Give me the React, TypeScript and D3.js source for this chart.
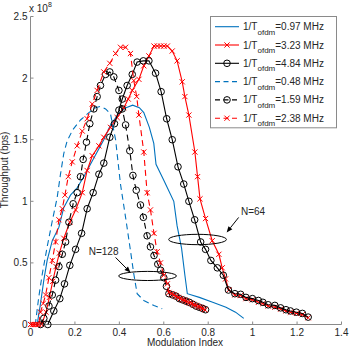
import React from 'react';
import { scaleLinear, line } from 'd3';

const xTicks = [0, 0.2, 0.4, 0.6, 0.8, 1, 1.2, 1.4];
const yTicks = [0, 0.5, 1, 1.5, 2, 2.5];

// throughput in units of 1e8 bps
// 1/Tofdm = 0.97 MHz
const mod097 = [0.02, 0.03, 0.045, 0.06, 0.075, 0.098, 0.128, 0.15, 0.18, 0.21, 0.24, 0.27, 0.3, 0.33, 0.36, 0.4, 0.43, 0.46, 0.49, 0.51, 0.535, 0.555, 0.565, 0.6, 0.645, 0.66, 0.68, 0.695, 0.706, 0.76, 0.82, 0.88, 0.923, 0.96];
const thr097 = [0, 0, 0.17, 0.36, 0.52, 0.68, 0.79, 0.95, 1.05, 1.11, 1.2, 1.3, 1.4, 1.5, 1.62, 1.72, 1.76, 1.78, 1.76, 1.72, 1.6, 1.47, 1.3, 1.17, 1.0, 0.8, 0.62, 0.4, 0.25, 0.22, 0.18, 0.14, 0.1, 0.05];

// 1/Tofdm = 3.23 MHz
const mod323 = [0.05, 0.07, 0.085, 0.1, 0.115, 0.13, 0.15, 0.177, 0.203, 0.233, 0.255, 0.278, 0.308, 0.33, 0.36, 0.39, 0.42, 0.44, 0.458, 0.488, 0.51, 0.533, 0.556, 0.571, 0.586, 0.601, 0.616, 0.638, 0.66, 0.683, 0.695, 0.713, 0.74, 0.752, 0.763, 0.788, 0.818, 0.848, 0.863, 0.878, 0.893, 0.92, 0.946, 0.97, 0.999, 1.026, 1.046, 1.07, 1.1, 1.126, 1.15, 1.17, 1.197, 1.224, 1.25];
const thr323 = [0, 0.1, 0.22, 0.35, 0.47, 0.58, 0.7, 0.83, 0.93, 1.07, 1.25, 1.37, 1.45, 1.52, 1.6, 1.68, 1.76, 1.83, 1.9, 1.99, 2.1, 2.18, 2.26, 2.26, 2.26, 2.26, 2.26, 2.22, 2.14, 1.97, 1.85, 1.7, 1.4, 1.2, 1.02, 0.86, 0.68, 0.57, 0.46, 0.37, 0.28, 0.24, 0.235, 0.21, 0.2, 0.18, 0.17, 0.15, 0.14, 0.125, 0.11, 0.1, 0.09, 0.08, 0.055];

// 1/Tofdm = 4.84 MHz
const mod484 = [0.078, 0.105, 0.132, 0.153, 0.177, 0.203, 0.23, 0.255, 0.282, 0.308, 0.33, 0.357, 0.378, 0.398, 0.413, 0.435, 0.458, 0.48, 0.508, 0.533, 0.563, 0.588, 0.613, 0.638, 0.664, 0.69, 0.713, 0.739, 0.766, 0.788, 0.812, 0.841, 0.868, 0.891, 0.92, 0.946, 0.97, 0.999, 1.026, 1.046, 1.07, 1.1, 1.126, 1.15, 1.17, 1.197, 1.224, 1.25];
const thr484 = [0, 0.11, 0.21, 0.33, 0.48, 0.61, 0.74, 0.94, 1.07, 1.22, 1.31, 1.52, 1.63, 1.74, 1.83, 1.94, 2.03, 2.13, 2.14, 2.14, 2.04, 1.89, 1.67, 1.5, 1.28, 1.14, 1.0, 0.85, 0.67, 0.61, 0.52, 0.46, 0.4, 0.28, 0.25, 0.245, 0.22, 0.21, 0.195, 0.18, 0.16, 0.155, 0.135, 0.12, 0.11, 0.1, 0.09, 0.06];

// 1/Tofdm = 0.48 MHz
const mod048 = [0.015, 0.023, 0.037, 0.053, 0.075, 0.098, 0.12, 0.135, 0.15, 0.165, 0.19, 0.225, 0.263, 0.293, 0.315, 0.338, 0.36, 0.383, 0.405, 0.428, 0.45, 0.465, 0.48, 0.51, 0.556, 0.593];
const thr048 = [0, 0.02, 0.22, 0.41, 0.63, 0.84, 1.03, 1.22, 1.39, 1.49, 1.58, 1.66, 1.72, 1.76, 1.77, 1.75, 1.71, 1.5, 1.14, 0.87, 0.6, 0.41, 0.25, 0.195, 0.154, 0.127];

// 1/Tofdm = 1.59 MHz
const mod159 = [0.045, 0.06, 0.083, 0.098, 0.113, 0.128, 0.143, 0.158, 0.173, 0.192, 0.21, 0.225, 0.237, 0.252, 0.267, 0.285, 0.3, 0.315, 0.338, 0.357, 0.375, 0.398, 0.413, 0.428, 0.447, 0.461, 0.476, 0.495, 0.508, 0.525, 0.54, 0.556, 0.573, 0.586, 0.6, 0.612, 0.623, 0.64, 0.655, 0.67, 0.685, 0.7, 0.715, 0.73, 0.745, 0.76, 0.775, 0.788];
const thr159 = [0, 0.05, 0.15, 0.24, 0.36, 0.47, 0.57, 0.67, 0.83, 0.98, 1.07, 1.2, 1.34, 1.48, 1.63, 1.75, 1.85, 1.94, 2.03, 2.05, 2.01, 1.9, 1.75, 1.62, 1.41, 1.21, 1.09, 0.97, 0.87, 0.72, 0.63, 0.56, 0.49, 0.44, 0.38, 0.31, 0.25, 0.24, 0.23, 0.21, 0.2, 0.19, 0.18, 0.165, 0.15, 0.14, 0.13, 0.12];

// 1/Tofdm = 2.38 MHz
const mod238 = [0, 0.008, 0.015, 0.022, 0.03, 0.037, 0.045, 0.057, 0.068, 0.083, 0.098, 0.113, 0.128, 0.143, 0.155, 0.17, 0.188, 0.21, 0.233, 0.255, 0.278, 0.3, 0.33, 0.357, 0.383, 0.405, 0.428, 0.45, 0.465, 0.478, 0.488, 0.51, 0.525, 0.54, 0.556, 0.57, 0.585, 0.6, 0.616, 0.623, 0.635, 0.645, 0.655, 0.665, 0.675, 0.685, 0.695, 0.705, 0.715, 0.725, 0.735, 0.745, 0.755, 0.765, 0.775, 0.785];
const thr238 = [0, 0, 0, 0, 0, 0, 0.1, 0.17, 0.24, 0.38, 0.52, 0.67, 0.85, 0.94, 1.05, 1.2, 1.32, 1.45, 1.57, 1.67, 1.79, 1.9, 2.05, 2.12, 2.2, 2.25, 2.25, 2.2, 1.98, 1.85, 1.7, 1.4, 1.07, 0.93, 0.74, 0.59, 0.5, 0.4, 0.33, 0.26, 0.25, 0.24, 0.23, 0.22, 0.21, 0.2, 0.195, 0.185, 0.175, 0.17, 0.16, 0.155, 0.145, 0.14, 0.13, 0.12];

const legendValues = ['0.97', '3.23', '4.84', '0.48', '1.59', '2.38'];

const BLUE = '#0072bd';
const series = [
  { xs: mod097, ys: thr097, color: BLUE, dash: null, marker: null },
  { xs: mod323, ys: thr323, color: '#ff0000', dash: null, marker: 'x' },
  { xs: mod484, ys: thr484, color: '#000000', dash: null, marker: 'o' },
  { xs: mod048, ys: thr048, color: BLUE, dash: '6,4', marker: null },
  { xs: mod159, ys: thr159, color: '#000000', dash: '6,4', marker: 'o' },
  { xs: mod238, ys: thr238, color: '#ff0000', dash: '6,4', marker: 'x' },
];

// annotations in data units
const notes = [
  { label: 'N=128', tx: 0.329, ty: 0.568, from: [0.383, 0.544], to: [0.45, 0.422], cx: 0.527, cy: 0.394, rx: 0.13, ry: 0.037 },
  { label: 'N=64', tx: 1.002, ty: 0.885, from: [0.937, 0.869], to: [0.883, 0.747], cx: 0.752, cy: 0.69, rx: 0.13, ry: 0.042 },
];

const FONT = '"Liberation Sans", Arial, sans-serif';
const AXIS = '#8a8a8a';

function Marker({ type, x, y, color }: any) {
  if (type === 'o') {
    return <circle cx={x} cy={y} r={3.3} fill="none" stroke={color} strokeWidth={1} />;
  }
  const s = 2.6;
  return (
    <path d={`M${x - s},${y - s}L${x + s},${y + s}M${x - s},${y + s}L${x + s},${y - s}`} stroke={color} strokeWidth={1} />
  );
}

function Arrow({ x1, y1, x2, y2 }: any) {
  const a = Math.atan2(y2 - y1, x2 - x1);
  const L = 6, W = 2.5;
  const bx = x2 - L * Math.cos(a), by = y2 - L * Math.sin(a);
  const px = -Math.sin(a) * W, py = Math.cos(a) * W;
  return (
    <g>
      <line x1={x1} y1={y1} x2={bx} y2={by} stroke="#000" strokeWidth={1} />
      <path d={`M${x2},${y2}L${bx + px},${by + py}L${bx - px},${by - py}Z`} fill="#000" />
    </g>
  );
}

export default function App() {
  const width = 349, height = 348;
  const x = scaleLinear().domain([0, 1.4]).range([30.5, 341.5]);
  const y = scaleLinear().domain([0, 2.5]).range([324.5, 16.5]);

  const path = (xs: number[], ys: number[]) =>
    line<number>().x((d, i) => x(xs[i])).y((d, i) => y(ys[i]))(xs) || '';

  const legX = 210.5, legY = 16.5, legW = 126, rowH = 18.3;

  return (
    <svg width={width} height={height} style={{ position: 'absolute', left: 0, top: 0, background: '#fff' }}
      fontFamily={FONT}>
      {/* axes */}
      <line x1={x(0)} x2={x(0)} y1={y(0)} y2={y(2.5)} stroke={AXIS} />
      <line x1={x(0)} x2={x(1.4)} y1={y(0)} y2={y(0)} stroke={AXIS} />
      {xTicks.map(t => (
        <g key={'x' + t}>
          <line x1={x(t)} x2={x(t)} y1={y(0)} y2={y(0) - 3} stroke={AXIS} />
          <text x={x(t)} y={y(0) + 11.5} fontSize={10} textAnchor="middle" fill="#262626">{t}</text>
        </g>
      ))}
      {yTicks.map(t => (
        <g key={'y' + t}>
          <line x1={x(0)} x2={x(0) + 3} y1={y(t)} y2={y(t)} stroke={AXIS} />
          <text x={x(0) - 3} y={y(t) + 3.5} fontSize={10} textAnchor="end" fill="#262626">{t}</text>
        </g>
      ))}
      <text x={29} y={12} fontSize={10} fill="#262626">x 10<tspan fontSize={7} dy={-5}>8</tspan></text>
      <text x={185} y={346} fontSize={10} textAnchor="middle" fill="#262626">Modulation Index</text>
      <text transform={`translate(7.5,170) rotate(-90)`} fontSize={10} textAnchor="middle" fill="#262626">Throughput (bps)</text>

      {/* series */}
      {series.map((s, k) => (
        <g key={k}>
          <path d={path(s.xs, s.ys)} fill="none" stroke={s.color} strokeWidth={1.1}
            strokeDasharray={s.dash || undefined} />
          {s.marker && s.xs.map((v, i) => (
            <Marker key={i} type={s.marker} x={x(v)} y={y(s.ys[i])} color={s.color} />
          ))}
        </g>
      ))}

      {/* annotations */}
      {notes.map(n => (
        <g key={n.label}>
          <ellipse cx={x(n.cx)} cy={y(n.cy)} rx={x(n.rx) - x(0)} ry={y(0) - y(n.ry)} fill="none" stroke="#000" strokeWidth={1} />
          <Arrow x1={x(n.from[0])} y1={y(n.from[1])} x2={x(n.to[0])} y2={y(n.to[1])} />
          <text x={x(n.tx)} y={y(n.ty)} fontSize={10} textAnchor="middle" fill="#262626">{n.label}</text>
        </g>
      ))}

      {/* legend */}
      <rect x={legX} y={legY} width={legW} height={rowH * 6 + 1.5} fill="#fff" stroke={AXIS} />
      {series.map((s, k) => {
        const cy = legY + 10.2 + k * rowH;
        return (
          <g key={'l' + k}>
            <line x1={215} x2={239} y1={cy} y2={cy} stroke={s.color} strokeWidth={1.1}
              strokeDasharray={s.dash ? '5,3.5' : undefined} />
            {s.marker && <Marker type={s.marker} x={227} y={cy} color={s.color} />}
            <text x={243} y={cy + 3.5} fontSize={10} fill="#262626">
              1/T<tspan fontSize={8} dy={4.5}>ofdm</tspan><tspan dy={-4.5}>={legendValues[k]} MHz</tspan>
            </text>
          </g>
        );
      })}
    </svg>
  );
}
